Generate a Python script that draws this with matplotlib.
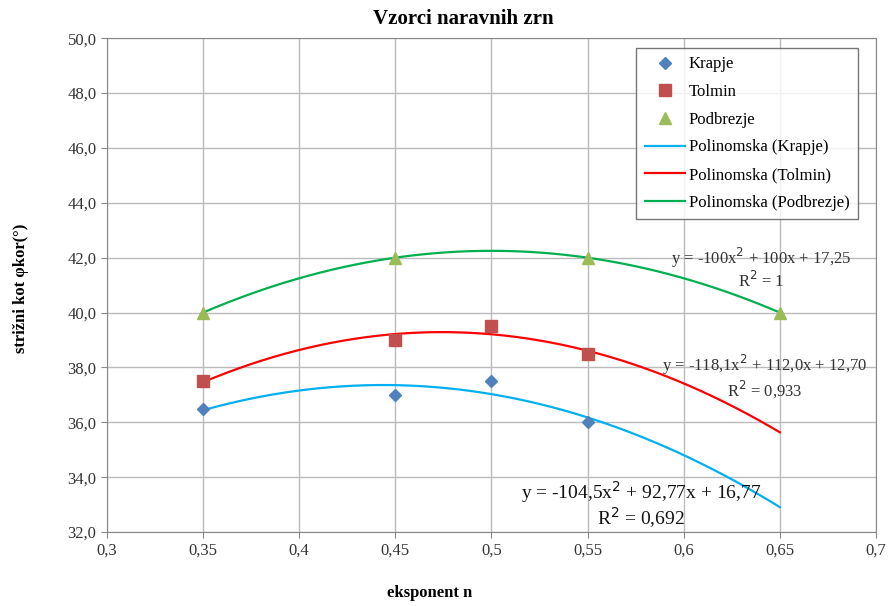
import numpy as np
import matplotlib.pyplot as plt

plt.rcParams['font.family'] = ['Liberation Serif', 'DejaVu Serif']

# podatki
x_krapje = [0.35, 0.45, 0.5, 0.55]
y_krapje = [36.5, 37.0, 37.5, 36.0]
x_tolmin = [0.35, 0.45, 0.5, 0.55]
y_tolmin = [37.5, 39.0, 39.5, 38.5]
x_podbrezje = [0.35, 0.45, 0.55, 0.65]
y_podbrezje = [40.0, 42.0, 42.0, 40.0]

eq_krapje = 'y = -104,5x$^2$ + 92,77x + 16,77\nR$^2$ = 0,692'
eq_tolmin = 'y = -118,1x$^2$ + 112,0x + 12,70\nR$^2$ = 0,933'
eq_podbrezje = 'y = -100x$^2$ + 100x + 17,25\nR$^2$ = 1'

xticks = [0.3, 0.35, 0.4, 0.45, 0.5, 0.55, 0.6, 0.65, 0.7]
yticks = np.arange(32, 50.1, 2)

fig = plt.figure(figsize=(8.9, 6.06), dpi=100)
ax = fig.add_axes([0.1202, 0.122, 0.864, 0.815])

xs = np.linspace(0.35, 0.65, 200)
series = [
    (x_krapje, y_krapje, 'Krapje', 'D', '#4F81BD', '#00B0F0', 6),
    (x_tolmin, y_tolmin, 'Tolmin', 's', '#C0504D', '#FF0000', 9),
    (x_podbrezje, y_podbrezje, 'Podbrezje', '^', '#9BBB59', '#00B050', 9),
]
mark_handles = []
line_handles = []
for xv, yv, name, m, mc, lc, ms in series:
    h, = ax.plot(xv, yv, m, color=mc, markersize=ms, label=name, zorder=4)
    mark_handles.append(h)
for xv, yv, name, m, mc, lc, ms in series:
    c = np.polyfit(xv, yv, 2)
    l, = ax.plot(xs, np.polyval(c, xs), color=lc, lw=1.6, label='Polinomska (%s)' % name, zorder=3)
    line_handles.append(l)

ax.set_xlim(0.3, 0.7)
ax.set_ylim(32, 50)
ax.set_xticks(xticks)
ax.set_xticklabels([('%g' % t).replace('.', ',') for t in xticks])
ax.set_yticks(yticks)
ax.set_yticklabels([('%.1f' % t).replace('.', ',') for t in yticks])
ax.tick_params(labelsize=12, length=4, color='#888888', labelcolor='#333333')
ax.grid(True, color='#bbbbbb', lw=1)
ax.set_axisbelow(True)
for s in ax.spines.values():
    s.set_color('#888888')

leg = ax.legend(handles=mark_handles + line_handles, loc='upper right',
                bbox_to_anchor=(0.9765, 0.98), fontsize=12, frameon=True,
                fancybox=False, edgecolor='#555555', handlelength=2.4,
                handletextpad=0.25, labelspacing=0.7, borderpad=0.5,
                borderaxespad=0.0)
leg.get_frame().set_linewidth(1)

ax.text(0.6402, 41.6, eq_podbrezje, ha='center', va='center', fontsize=12, color='#333333', linespacing=1.05)
ax.text(0.6423, 37.68, eq_tolmin, ha='center', va='center', fontsize=12, color='#333333', linespacing=1.05)
ax.text(0.578, 33.0, eq_krapje, ha='center', va='center', fontsize=14, color='#111111', linespacing=1.0)

fig.text(0.521, 0.968, 'Vzorci naravnih zrn', ha='center', va='center', fontsize=15, fontweight='bold')
fig.text(0.483, 0.022, 'eksponent n', ha='center', va='center', fontsize=12, fontweight='bold')
fig.text(0.024, 0.525, 'strižni kot φkor(°)', ha='center', va='center', fontsize=12, fontweight='bold', rotation=90)

fig.savefig('out.png', dpi=100)
